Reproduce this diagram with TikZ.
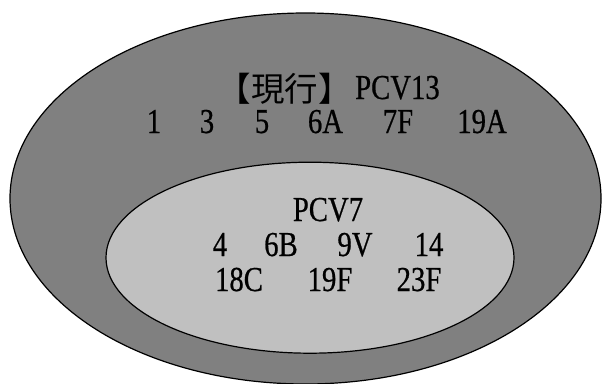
\documentclass[tikz,border=0pt]{standalone}
\usepackage{fontspec}
\usetikzlibrary{shapes.geometric}
\newfontfamily\latf[FakeStretch=0.82,FakeBold=0.6]{Liberation Serif}
\newfontfamily\cjkf{Noto Sans CJK JP}
\begin{document}
\begin{tikzpicture}[x=1pt,y=-1pt,
  tok/.style={inner sep=0pt,anchor=base,font=\latf\fontsize{35}{38}\selectfont},
  cjk/.style={inner sep=0pt,anchor=base east,font=\cjkf\fontsize{33.5}{36}\selectfont}]
\useasboundingbox (0,0) rectangle (602,383);
\begin{scope}
\clip (0,0) rectangle (602,383);
\node[draw=black,line width=1.2pt,fill={rgb,255:red,128;green,128;blue,128},ellipse,minimum width=591pt,minimum height=371pt,inner sep=0pt] (outer) at (305.5,198.5) {};
\end{scope}
\node[draw=black,line width=1.2pt,fill={rgb,255:red,192;green,192;blue,192},ellipse,minimum width=408pt,minimum height=191pt,inner sep=0pt] (inner) at (310,257.7) {};
% row 1
\node[cjk] (gen) at (352,101) {【現行】};
\node[tok,anchor=base west] (pcv13) at (355,99) {PCV13};
% row 2
\node[tok] (s1) at (154,133) {1};
\node[tok] (s3) at (207,133) {3};
\node[tok] (s5) at (262,133) {5};
\node[tok] (s6A) at (325.5,133) {6A};
\node[tok] (s7F) at (398,133) {7F};
\node[tok] (s19A) at (482,133) {19A};
% inner
\node[tok] (pcv7) at (328,221) {PCV7};
\node[tok] (s4) at (220,256) {4};
\node[tok] (s6B) at (281,256) {6B};
\node[tok] (s9V) at (355,256) {9V};
\node[tok] (s14) at (429,256) {14};
\node[tok] (s18C) at (239,291) {18C};
\node[tok] (s19F) at (330,291) {19F};
\node[tok] (s23F) at (419,291) {23F};
\end{tikzpicture}
\end{document}
